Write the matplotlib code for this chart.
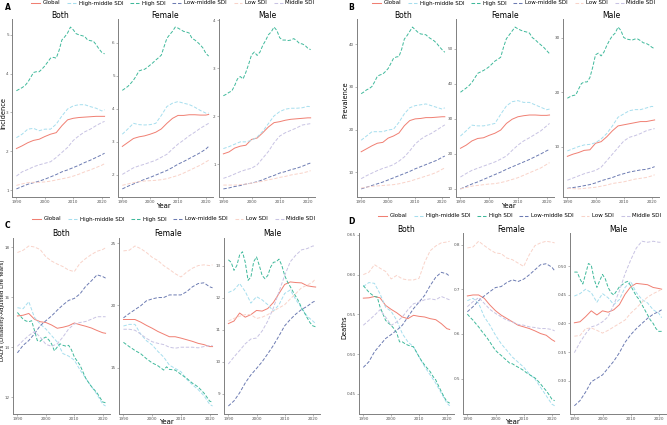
import matplotlib
matplotlib.use("Agg")
import matplotlib.pyplot as plt
from matplotlib.lines import Line2D

# years read every 2 years, high SDI lines read yearly (they wiggle)
years = [1990, 1992, 1994, 1996, 1998, 2000, 2002, 2004, 2006, 2008, 2010, 2012, 2014, 2016, 2018, 2020, 2021]
years_all = list(range(1990, 2022))

groups = ["Global", "High-middle SDI", "High SDI", "Low-middle SDI", "Low SDI", "Middle SDI"]
colors = {"Global": "#F07F72", "High-middle SDI": "#A6DEEE", "High SDI": "#3FB99B",
          "Low-middle SDI": "#6C7BB2", "Low SDI": "#F9D3C9", "Middle SDI": "#C8C3E3"}

# ---- A: incidence ----
inc_both = {
    "Global": [2.07, 2.14, 2.22, 2.28, 2.31, 2.38, 2.44, 2.48, 2.66, 2.81, 2.85, 2.87, 2.88, 2.89, 2.90, 2.90, 2.90],
    "High-middle SDI": [2.35, 2.44, 2.57, 2.59, 2.53, 2.57, 2.57, 2.70, 2.91, 3.09, 3.17, 3.20, 3.20, 3.15, 3.11, 3.04, 3.07],
    "High SDI": [3.56, 3.60, 3.64, 3.69, 3.78, 3.90, 4.03, 4.05, 4.05, 4.12, 4.20, 4.30, 4.40, 4.42, 4.40, 4.60,
                 4.87, 4.95, 5.05, 5.20, 5.13, 5.03, 5.00, 4.98, 4.96, 4.87, 4.85, 4.84, 4.75, 4.64, 4.55, 4.51],
    "Low-middle SDI": [1.03, 1.09, 1.15, 1.19, 1.23, 1.28, 1.34, 1.40, 1.47, 1.52, 1.58, 1.64, 1.71, 1.77, 1.84, 1.91, 1.95],
    "Low SDI": [1.12, 1.16, 1.19, 1.20, 1.20, 1.21, 1.23, 1.26, 1.29, 1.32, 1.36, 1.41, 1.47, 1.52, 1.58, 1.64, 1.68],
    "Middle SDI": [1.36, 1.47, 1.53, 1.60, 1.65, 1.69, 1.73, 1.84, 1.97, 2.10, 2.28, 2.40, 2.50, 2.57, 2.66, 2.74, 2.77],
}
inc_female = {
    "Global": [2.86, 2.98, 3.10, 3.15, 3.18, 3.23, 3.29, 3.39, 3.56, 3.71, 3.80, 3.80, 3.82, 3.82, 3.81, 3.81, 3.83],
    "High-middle SDI": [3.23, 3.39, 3.56, 3.52, 3.51, 3.52, 3.56, 3.80, 4.07, 4.17, 4.22, 4.17, 4.13, 4.05, 3.95, 3.87, 3.87],
    "High SDI": [4.56, 4.62, 4.68, 4.77, 4.87, 5.00, 5.15, 5.18, 5.20, 5.26, 5.33, 5.40, 5.48, 5.55, 5.63, 5.89,
                 6.14, 6.25, 6.35, 6.48, 6.45, 6.40, 6.35, 6.33, 6.30, 6.14, 6.09, 6.02, 5.94, 5.84, 5.68, 5.60],
    "Low-middle SDI": [1.57, 1.65, 1.72, 1.79, 1.86, 1.92, 1.99, 2.06, 2.13, 2.22, 2.32, 2.40, 2.49, 2.58, 2.67, 2.78, 2.86],
    "Low SDI": [1.68, 1.72, 1.76, 1.79, 1.81, 1.82, 1.83, 1.85, 1.88, 1.93, 1.98, 2.05, 2.13, 2.21, 2.29, 2.39, 2.44],
    "Middle SDI": [2.01, 2.11, 2.21, 2.27, 2.32, 2.38, 2.44, 2.53, 2.62, 2.78, 2.93, 3.05, 3.18, 3.29, 3.41, 3.51, 3.56],
}
inc_male = {
    "Global": [1.22, 1.26, 1.34, 1.38, 1.40, 1.52, 1.55, 1.66, 1.78, 1.87, 1.89, 1.92, 1.94, 1.95, 1.96, 1.97, 1.97],
    "High-middle SDI": [1.33, 1.37, 1.42, 1.47, 1.47, 1.50, 1.57, 1.69, 1.85, 2.01, 2.10, 2.15, 2.17, 2.17, 2.18, 2.21, 2.20],
    "High SDI": [2.43, 2.46, 2.50, 2.53, 2.64, 2.78, 2.83, 2.78, 2.92, 3.09, 3.28, 3.34, 3.27, 3.34, 3.48, 3.58,
                 3.70, 3.76, 3.86, 3.79, 3.64, 3.59, 3.59, 3.58, 3.59, 3.62, 3.58, 3.52, 3.51, 3.48, 3.42, 3.39],
    "Low-middle SDI": [0.49, 0.51, 0.54, 0.56, 0.59, 0.61, 0.64, 0.68, 0.73, 0.77, 0.82, 0.85, 0.89, 0.92, 0.96, 1.01, 1.03],
    "Low SDI": [0.57, 0.57, 0.57, 0.58, 0.59, 0.61, 0.63, 0.65, 0.68, 0.70, 0.73, 0.75, 0.78, 0.80, 0.82, 0.85, 0.87],
    "Middle SDI": [0.71, 0.75, 0.80, 0.85, 0.89, 0.92, 0.99, 1.13, 1.27, 1.45, 1.59, 1.66, 1.71, 1.76, 1.82, 1.84, 1.85],
}

# ---- B: prevalence ----
prev_both = {
    "Global": [14.8, 15.5, 16.2, 16.8, 17.0, 18.0, 18.5, 19.2, 20.9, 22.1, 22.5, 22.6, 22.8, 22.8, 22.9, 23.0, 23.0],
    "High-middle SDI": [17.5, 18.5, 19.5, 19.5, 19.5, 19.9, 20.1, 21.7, 23.7, 25.1, 25.6, 25.8, 26.0, 25.6, 25.2, 24.8, 25.1],
    "High SDI": [28.4, 28.8, 29.3, 29.6, 30.1, 31.2, 32.5, 32.8, 33.0, 33.6, 34.3, 35.5, 36.7, 37.0, 37.1, 38.8,
                 41.2, 42.0, 43.0, 44.0, 43.4, 42.8, 42.4, 42.3, 42.2, 41.6, 41.2, 40.8, 40.2, 39.4, 38.7, 38.1],
    "Low-middle SDI": [6.1, 6.5, 6.9, 7.3, 7.7, 8.2, 8.7, 9.2, 9.7, 10.2, 10.8, 11.3, 11.8, 12.3, 12.8, 13.5, 13.8],
    "Low SDI": [6.3, 6.5, 6.7, 6.8, 6.9, 7.0, 7.1, 7.3, 7.6, 7.9, 8.3, 8.7, 9.1, 9.5, 10.0, 10.7, 11.0],
    "Middle SDI": [8.5, 9.2, 9.8, 10.4, 10.9, 11.3, 11.8, 12.6, 13.6, 15.0, 16.6, 17.7, 18.5, 19.1, 19.9, 20.7, 21.1],
}
prev_female = {
    "Global": [21.6, 22.5, 23.7, 24.4, 24.6, 25.3, 25.9, 26.8, 28.7, 29.9, 30.6, 30.9, 31.1, 31.1, 31.0, 31.0, 31.1],
    "High-middle SDI": [25.1, 26.6, 28.2, 28.0, 28.0, 28.3, 28.7, 31.3, 33.7, 34.9, 35.2, 34.7, 34.7, 34.0, 33.3, 32.6, 32.8],
    "High SDI": [37.6, 38.2, 38.8, 39.5, 40.4, 41.7, 43.0, 43.4, 43.8, 44.3, 44.9, 45.7, 46.5, 47.0, 47.6, 50.5,
                 52.9, 54.0, 55.1, 56.2, 55.7, 55.3, 55.0, 54.8, 54.5, 53.2, 52.6, 51.8, 51.1, 50.4, 49.5, 48.6],
    "Low-middle SDI": [10.0, 10.7, 11.4, 12.0, 12.7, 13.4, 14.1, 14.8, 15.6, 16.3, 17.0, 17.7, 18.4, 19.2, 20.0, 20.9, 21.3],
    "Low SDI": [10.0, 10.4, 10.8, 11.0, 11.2, 11.4, 11.5, 11.8, 12.2, 12.7, 13.2, 13.9, 14.6, 15.3, 16.0, 17.0, 17.5],
    "Middle SDI": [13.4, 14.4, 15.3, 15.9, 16.5, 17.1, 17.7, 18.5, 19.4, 21.0, 22.5, 23.7, 24.6, 25.6, 26.6, 28.0, 28.7],
}
prev_male = {
    "Global": [8.2, 8.6, 8.9, 9.3, 9.4, 10.6, 10.9, 11.8, 12.9, 13.8, 14.0, 14.2, 14.4, 14.6, 14.6, 14.8, 14.9],
    "High-middle SDI": [9.2, 9.6, 10.0, 10.3, 10.4, 10.7, 11.4, 12.4, 13.8, 15.4, 16.0, 16.6, 16.8, 16.8, 17.1, 17.4, 17.3],
    "High SDI": [18.9, 19.2, 19.4, 19.5, 20.6, 21.6, 21.9, 21.9, 22.7, 24.6, 26.9, 27.2, 26.7, 27.4, 28.6, 29.6,
                 30.4, 30.9, 32.0, 31.4, 30.1, 29.8, 29.7, 29.6, 29.8, 29.8, 29.5, 29.1, 29.0, 28.7, 28.3, 28.0],
    "Low-middle SDI": [2.3, 2.45, 2.6, 2.8, 3.0, 3.3, 3.7, 4.0, 4.3, 4.7, 5.0, 5.3, 5.5, 5.7, 5.8, 6.1, 6.3],
    "Low SDI": [2.3, 2.25, 2.2, 2.3, 2.4, 2.5, 2.7, 2.9, 3.2, 3.35, 3.5, 3.75, 4.0, 4.15, 4.3, 4.6, 4.8],
    "Middle SDI": [3.8, 4.2, 4.6, 5.0, 5.3, 5.6, 6.2, 7.4, 8.6, 9.8, 11.0, 11.7, 12.0, 12.4, 12.9, 13.2, 13.3],
}

# ---- C: DALYs ----
daly_both = {
    "Global": [15.25, 15.28, 15.35, 15.12, 15.02, 14.99, 14.89, 14.76, 14.80, 14.86, 14.97, 14.90, 14.84, 14.77, 14.67, 14.58, 14.56],
    "High-middle SDI": [15.58, 15.54, 15.82, 15.19, 14.93, 14.73, 14.47, 14.21, 13.75, 13.65, 13.49, 13.10, 12.77, 12.44, 12.12, 11.73, 11.66],
    "High SDI": [15.39, 15.25, 15.12, 15.05, 15.02, 15.06, 14.67, 14.27, 14.24, 14.35, 14.41, 14.30, 14.14, 13.86, 14.01, 14.14,
                 14.08, 14.05, 14.08, 13.90, 13.62, 13.45, 13.29, 13.03, 12.77, 12.60, 12.44, 12.31, 12.18, 12.00, 11.82, 11.79],
    "Low-middle SDI": [13.78, 14.08, 14.27, 14.54, 14.86, 15.06, 15.25, 15.48, 15.69, 15.87, 15.95, 16.13, 16.43, 16.65, 16.89, 16.82, 16.76],
    "Low SDI": [17.78, 17.87, 18.04, 18.00, 17.90, 17.61, 17.44, 17.32, 17.22, 17.08, 17.02, 17.35, 17.54, 17.70, 17.83, 17.90, 17.97],
    "Middle SDI": [14.04, 14.27, 14.47, 14.63, 14.41, 14.12, 14.04, 14.14, 14.41, 14.73, 14.93, 14.99, 15.03, 15.12, 15.22, 15.22, 15.22],
}
daly_female = {
    "Global": [18.87, 18.87, 18.87, 18.66, 18.40, 18.17, 17.91, 17.70, 17.49, 17.49, 17.38, 17.25, 17.12, 16.96, 16.86, 16.70, 16.70],
    "High-middle SDI": [18.35, 18.48, 18.48, 17.70, 17.17, 16.83, 16.31, 15.86, 15.21, 14.95, 14.69, 14.08, 13.64, 13.25, 12.77, 12.07, 11.94],
    "High SDI": [17.04, 16.87, 16.70, 16.55, 16.39, 16.26, 16.13, 15.93, 15.73, 15.56, 15.39, 15.28, 15.16, 14.99, 14.82, 15.08,
                 14.87, 14.85, 14.82, 14.65, 14.48, 14.32, 14.16, 13.96, 13.77, 13.62, 13.46, 13.22, 12.98, 12.66, 12.33, 12.25],
    "Low-middle SDI": [19.00, 19.35, 19.66, 19.97, 20.37, 20.52, 20.63, 20.63, 20.84, 20.84, 20.84, 21.10, 21.49, 21.75, 21.81, 21.49, 21.41],
    "Low SDI": [24.37, 24.42, 24.76, 24.55, 24.24, 23.85, 23.59, 23.19, 22.88, 22.54, 22.28, 22.67, 22.98, 23.19, 23.25, 23.19, 23.25],
    "Middle SDI": [18.09, 18.09, 18.01, 17.70, 17.36, 17.09, 16.96, 16.86, 16.65, 16.57, 16.65, 16.65, 16.65, 16.60, 16.70, 16.78, 16.78],
}
daly_male = {
    "Global": [11.19, 11.27, 11.52, 11.39, 11.47, 11.60, 11.58, 11.66, 11.85, 12.13, 12.41, 12.49, 12.47, 12.46, 12.37, 12.34, 12.33],
    "High-middle SDI": [12.16, 12.24, 12.44, 12.19, 11.83, 12.03, 11.93, 11.78, 11.58, 11.78, 12.13, 12.24, 11.93, 11.68, 11.42, 11.27, 11.19],
    "High SDI": [13.18, 13.10, 12.85, 13.00, 13.33, 13.43, 13.10, 12.54, 12.64, 13.12, 13.27, 13.00, 12.69, 12.59, 12.69, 12.95,
                 13.10, 13.12, 13.20, 13.00, 12.69, 12.49, 12.34, 12.18, 12.03, 11.88, 11.68, 11.53, 11.37, 11.22, 11.12, 11.09],
    "Low-middle SDI": [8.62, 8.78, 9.03, 9.34, 9.59, 9.79, 10.00, 10.25, 10.51, 10.81, 11.12, 11.32, 11.49, 11.63, 11.73, 11.86, 11.90],
    "Low SDI": [11.27, 11.35, 11.42, 11.47, 11.47, 11.35, 11.39, 11.47, 11.58, 11.68, 11.78, 11.96, 12.13, 12.31, 12.39, 12.49, 12.59],
    "Middle SDI": [9.93, 10.15, 10.35, 10.56, 10.71, 10.74, 10.96, 11.27, 11.68, 12.19, 12.69, 13.12, 13.33, 13.49, 13.53, 13.61, 13.61],
}

# ---- D: deaths ----
death_both = {
    "Global": [0.5704, 0.5708, 0.5725, 0.5708, 0.5613, 0.5563, 0.5520, 0.5467, 0.5446, 0.5488, 0.5475, 0.5467, 0.5446, 0.5433, 0.5383, 0.5320, 0.5310],
    "High-middle SDI": [0.585, 0.590, 0.589, 0.5758, 0.559, 0.5538, 0.5425, 0.5258, 0.5154, 0.5092, 0.4967, 0.4842, 0.4738, 0.4633, 0.4508, 0.4383, 0.435],
    "High SDI": [0.5862, 0.582, 0.5779, 0.575, 0.5725, 0.5717, 0.5592, 0.551, 0.5425, 0.539, 0.5363, 0.532, 0.5267, 0.5154, 0.5154, 0.513,
                 0.5113, 0.510, 0.5092, 0.503, 0.4967, 0.491, 0.4863, 0.482, 0.4779, 0.472, 0.4675, 0.460, 0.4529, 0.446, 0.4404, 0.4383],
    "Low-middle SDI": [0.4833, 0.4904, 0.5029, 0.5113, 0.5196, 0.5246, 0.5300, 0.5363, 0.5467, 0.5571, 0.5654, 0.5738, 0.5862, 0.5967, 0.6029, 0.6008, 0.5979],
    "Low SDI": [0.600, 0.603, 0.6125, 0.608, 0.604, 0.5946, 0.599, 0.5946, 0.5933, 0.5933, 0.5954, 0.6154, 0.630, 0.636, 0.640, 0.641, 0.642],
    "Middle SDI": [0.5363, 0.5425, 0.5488, 0.5558, 0.5467, 0.5363, 0.5404, 0.5467, 0.5558, 0.5633, 0.5654, 0.5683, 0.5696, 0.5683, 0.5725, 0.5696, 0.5683],
}
death_female = {
    "Global": [0.685, 0.6872, 0.6872, 0.6797, 0.6647, 0.6519, 0.6421, 0.6346, 0.6271, 0.6195, 0.6158, 0.612, 0.6068, 0.6008, 0.597, 0.5872, 0.5835],
    "High-middle SDI": [0.6744, 0.6797, 0.6684, 0.6383, 0.6195, 0.597, 0.5782, 0.5632, 0.5481, 0.5368, 0.5256, 0.5105, 0.4992, 0.4805, 0.4617, 0.4429, 0.4391],
    "High SDI": [0.6444, 0.637, 0.6308, 0.623, 0.6158, 0.607, 0.5992, 0.591, 0.582, 0.572, 0.5632, 0.557, 0.5519, 0.546, 0.5406, 0.5346,
                 0.5331, 0.529, 0.5256, 0.522, 0.518, 0.513, 0.509, 0.505, 0.5015, 0.495, 0.488, 0.480, 0.4729, 0.464, 0.4541, 0.4504],
    "Low-middle SDI": [0.6496, 0.6609, 0.6744, 0.685, 0.6947, 0.7038, 0.706, 0.715, 0.7211, 0.7173, 0.7226, 0.7323, 0.7436, 0.7549, 0.7571, 0.7496, 0.7414],
    "Low SDI": [0.7925, 0.7947, 0.8075, 0.7977, 0.7887, 0.7812, 0.7797, 0.7699, 0.7662, 0.7586, 0.7511, 0.7774, 0.7977, 0.8038, 0.8075, 0.8053, 0.8038],
    "Middle SDI": [0.6609, 0.6722, 0.6812, 0.6684, 0.6549, 0.6459, 0.6383, 0.6308, 0.6271, 0.6211, 0.6195, 0.6158, 0.6143, 0.612, 0.612, 0.6098, 0.6068],
}
death_male = {
    "Global": [0.4012, 0.4030, 0.4119, 0.4221, 0.4149, 0.4221, 0.4197, 0.4239, 0.4329, 0.4509, 0.4641, 0.4700, 0.4689, 0.4677, 0.4629, 0.4611, 0.4599],
    "High-middle SDI": [0.4479, 0.4521, 0.4599, 0.4539, 0.4371, 0.4521, 0.4449, 0.4329, 0.4419, 0.4629, 0.4736, 0.4539, 0.4419, 0.4359, 0.4239, 0.4179, 0.4101],
    "High SDI": [0.4898, 0.4898, 0.4778, 0.4689, 0.4868, 0.5048, 0.5018, 0.4778, 0.4629, 0.4748, 0.4856, 0.4778, 0.4629, 0.4539, 0.4497, 0.4569,
                 0.4641, 0.4677, 0.4718, 0.4736, 0.4659, 0.4569, 0.4479, 0.4419, 0.4329, 0.4239, 0.4150, 0.4060, 0.4000, 0.3910, 0.3862, 0.3862],
    "Low-middle SDI": [0.2562, 0.2652, 0.2802, 0.2981, 0.3041, 0.3101, 0.3221, 0.3341, 0.3490, 0.3670, 0.3802, 0.3910, 0.4000, 0.4090, 0.4161, 0.4209, 0.4239],
    "Low SDI": [0.3778, 0.3790, 0.3910, 0.3922, 0.3880, 0.3832, 0.3880, 0.3940, 0.4000, 0.4060, 0.4179, 0.4269, 0.4371, 0.4461, 0.4521, 0.4569, 0.4599],
    "Middle SDI": [0.3490, 0.3670, 0.3820, 0.3940, 0.3970, 0.4030, 0.4119, 0.4329, 0.4569, 0.4868, 0.5108, 0.5317, 0.5437, 0.5419, 0.5437, 0.5419, 0.5419],
}

W, H = 667, 425
fig = plt.figure(figsize=(W / 100, H / 100), dpi=100)


def px_axes(x0, x1, y0, y1):
    return fig.add_axes([x0 / W, 1 - y1 / H, (x1 - x0) / W, (y1 - y0) / H])


def draw(ax, data, ticks, fmt, title, title_y):
    for g in groups:
        vals = data[g]
        xs = years_all if len(vals) == len(years_all) else years
        ls = "-" if g == "Global" else (0, (3.5, 1.8))
        ax.plot(xs, vals, color=colors[g], lw=0.7, ls=ls)
    lo, hi = ax.get_ylim()
    ax.set_yticks([t for t in ticks if lo <= t <= hi])
    ax.set_ylim(lo, hi)
    ax.set_yticklabels([fmt.format(t) for t in ax.get_yticks()])
    ax.set_xticks([1990, 2000, 2010, 2020])
    for s in ["top", "right"]:
        ax.spines[s].set_visible(False)
    for s in ["left", "bottom"]:
        ax.spines[s].set_color("#808080")
        ax.spines[s].set_linewidth(0.7)
    ax.tick_params(labelsize=3, length=1.5, width=0.4, pad=0.8, colors="#808080", labelcolor="#555555")
    x0, x1 = ax.get_position().x0, ax.get_position().x1
    fig.text((x0 + x1) / 2, 1 - title_y / H, title, ha="center", va="center", fontsize=5.5)


panels = [
    ("A", "Incidence", (5, 7), (173, 3), 15, (19, 197), 206, (3, 113), 4.8,
     [(12, 109), (118, 213), (219, 315)], [inc_both, inc_female, inc_male],
     [[1, 2, 3, 4, 5], [2, 3, 4, 5, 6], [1, 2, 3, 4]], ["{:g}", "{:g}", "{:g}"]),
    ("B", "Prevalence", (348, 7), (514, 3), 15, (19, 197), 206, (345, 100), 4.8,
     [(357, 449), (456, 554), (563, 659)], [prev_both, prev_female, prev_male],
     [[10, 20, 30, 40], [10, 20, 30, 40, 50], [10, 20, 30]], ["{:g}", "{:g}", "{:g}"]),
    ("C", "DALYs (Disability-Adjusted Life Years)", (5, 225), (174, 219), 233, (238, 414), 422, (2.5, 310), 4.0,
     [(13, 110), (119, 217), (224, 320)], [daly_both, daly_female, daly_male],
     [[12, 14, 16, 18], [15, 20, 25], [9, 10, 11, 12, 13]], ["{:g}", "{:g}", "{:g}"]),
    ("D", "Deaths", (348, 221), (520, 216), 229, (233, 414), 422, (344, 327), 4.8,
     [(359, 454), (463, 559), (570, 666)], [death_both, death_female, death_male],
     [[0.45, 0.50, 0.55, 0.60, 0.65], [0.5, 0.6, 0.7, 0.8], [0.30, 0.35, 0.40, 0.45, 0.50]],
     ["{:.2f}", "{:.1f}", "{:.2f}"]),
]

titles = ["Both", "Female", "Male"]
for (letter, ylab, lpos, legpos, ty, (yt, yb), xlab_y, ylab_pos, ylab_fs,
     boxes, datas, tick_sets, fmts) in panels:
    for (x0, x1), d, tk, fm, tt in zip(boxes, datas, tick_sets, fmts, titles):
        ax = px_axes(x0, x1, yt, yb)
        draw(ax, d, tk, fm, tt, ty)
    fig.text(lpos[0] / W, 1 - lpos[1] / H, letter, fontsize=5.5, fontweight="bold", ha="left", va="center")
    fig.text(ylab_pos[0] / W, 1 - ylab_pos[1] / H, ylab, rotation=90, fontsize=ylab_fs, ha="center", va="center")
    xc = (boxes[0][0] + boxes[2][1]) / 2
    fig.text(xc / W, 1 - xlab_y / H, "Year", fontsize=5, ha="center", va="center")
    handles = [Line2D([], [], color=colors[g], lw=0.75, ls="-" if g == "Global" else (0, (3.5, 1.8)))
               for g in groups]
    fig.legend(handles, groups, loc="center", bbox_to_anchor=(legpos[0] / W, 1 - legpos[1] / H),
               ncol=6, frameon=False, fontsize=4, handlelength=1.6, handletextpad=0.5,
               columnspacing=1.2, borderpad=0, borderaxespad=0)

fig.savefig("out.png", dpi=100)
